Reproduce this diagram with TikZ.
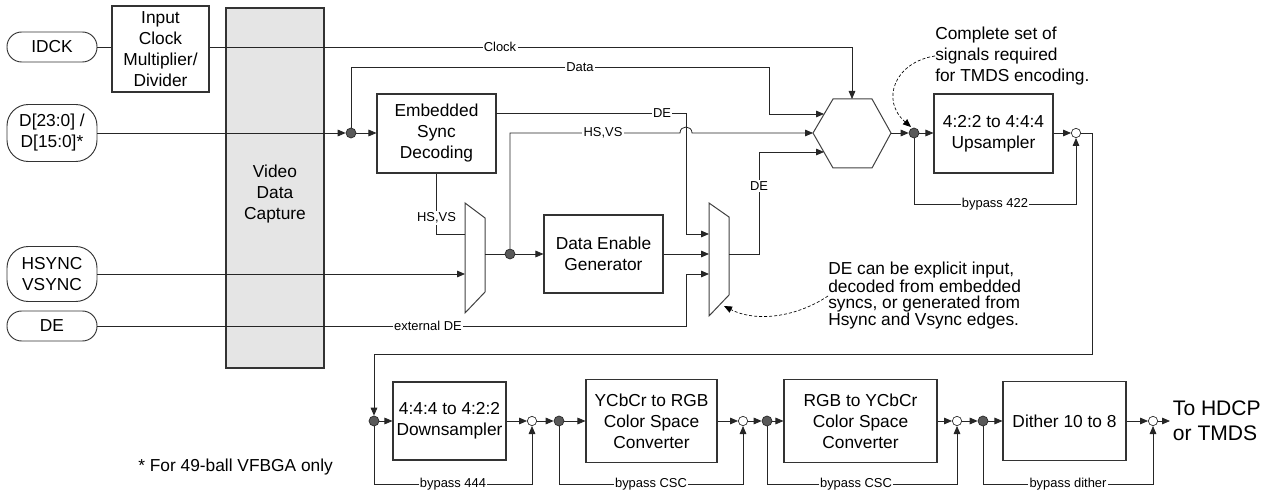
\documentclass[tikz,border=0pt]{standalone}
\usepackage{fontspec}
\setmainfont{Liberation Sans}
\usetikzlibrary{arrows.meta}
\begin{document}
\begin{tikzpicture}[x=0.75pt,y=-0.75pt,
  every node/.style={font=\fontsize{13}{15.75}\selectfont, align=center},
  box/.style={draw=black!80, line width=0.8pt, inner sep=0pt},
  pill/.style={draw=black!80, line width=0.7pt, inner sep=0pt, minimum width=67.5pt},
  lbl/.style={fill=white, inner sep=1pt, font=\fontsize{9.7}{11}\selectfont},
  wire/.style={line width=0.6pt, draw=black!85},
  arr/.style={wire, -{Triangle[length=6pt,width=5pt]}},
  dot/.style={circle, draw=black!85, fill=black!65, inner sep=0pt, minimum size=7.5pt, line width=0.5pt},
  odot/.style={circle, draw=black!85, fill=white, inner sep=0pt, minimum size=7pt, line width=0.5pt},
  note/.style={align=left, anchor=west, inner sep=0pt},
  shp/.style={draw=black!75, line width=0.75pt},
  hint/.style={line width=0.5pt, dash pattern=on 2.25pt off 1.5pt, -{Triangle[length=6pt,width=5pt]}},
]
\useasboundingbox (0,0) rectangle (1270,491);

% inputs
\node[pill, minimum height=22.5pt, rounded corners=11pt] (idck) at (52,47) {IDCK};
\node[pill, minimum height=42.75pt, rounded corners=16pt] (dpin) at (52,133) {D[23:0] /\\D[15:0]*};
\node[pill, minimum height=41.25pt, rounded corners=16pt] (hspin) at (52,274) {HSYNC\\VSYNC};
\node[pill, minimum height=22.5pt, rounded corners=11pt] (depin) at (52,326) {DE};

% blocks
\node[box, minimum width=72.75pt, minimum height=64.5pt] (clk) at (160.5,49) {Input\\Clock\\Multiplier/\\Divider};
\node[box, fill=black!10, minimum width=73.5pt, minimum height=270pt] (vdc) at (275,188) {};
\node (vdct) at (275,194) {Video\\Data\\Capture};
\node[box, minimum width=89.25pt, minimum height=59.25pt] (esd) at (436.5,133.5) {Embedded\\Sync\\Decoding};
\node[box, minimum width=89.25pt, minimum height=58.5pt] (deg) at (603.5,254) {Data Enable\\Generator};
\node[box, minimum width=89.25pt, minimum height=59.25pt] (ups) at (993.5,133.5) {4:2:2 to 4:4:4\\Upsampler};
\node[box, minimum width=84.75pt, minimum height=58.5pt] (dns) at (449.5,421) {4:4:4 to 4:2:2\\Downsampler};
\node[box, minimum width=98.25pt, minimum height=62.25pt] (y2r) at (651.5,421) {YCbCr to RGB\\Color Space\\Converter};
\node[box, minimum width=114.75pt, minimum height=62.25pt] (r2y) at (860.5,421) {RGB to YCbCr\\Color Space\\Converter};
\node[box, minimum width=92.25pt, minimum height=59.25pt] (dth) at (1064.5,421) {Dither 10 to 8};

% hexagon (combiner)
\coordinate (hl) at (813,133);
\coordinate (htl) at (833,99);
\coordinate (htr) at (872,99);
\coordinate (hr) at (891,133);
\coordinate (hbr) at (872,168);
\coordinate (hbl) at (833,168);
\draw[shp] (hl)--(htl)--(htr)--(hr)--(hbr)--(hbl)--cycle;
\coordinate (hin1) at (824,114);
\coordinate (hin3) at (824,152);
\coordinate (htop) at (852,99);

% muxes
\draw[shp] (465,203)--(485,218)--(485,292)--(465,313)--cycle;
\coordinate (m1i1) at (465,234);
\coordinate (m1i2) at (465,274);
\coordinate (m1o) at (485,254);
\draw[shp] (709,203)--(729,217)--(729,295)--(709,316)--cycle;
\coordinate (m2i1) at (709,234);
\coordinate (m2i2) at (709,254);
\coordinate (m2i3) at (709,274);
\coordinate (m2o) at (729,254);

% junctions
\node[dot] (d1) at (351,133) {};
\node[dot] (d2) at (510,254) {};
\node[dot] (d3) at (914,133) {};
\node[odot] (c0) at (1076,133) {};
\node[dot] (b0) at (374,421) {};
\node[odot] (c1) at (532,421) {};
\node[dot] (b1) at (559,421) {};
\node[odot] (c2) at (743,421) {};
\node[dot] (b2) at (767,421) {};
\node[odot] (c3) at (957,421) {};
\node[dot] (b3) at (983,421) {};
\node[odot] (c4) at (1153,421) {};
\node[anchor=west, align=left, inner sep=2pt, font=\fontsize{15.8}{18.75}\selectfont] (out) at (1170,421) {To HDCP\\or TMDS};

% wires top
\draw[wire] (idck.east) -- (clk.west |- idck.east);
\draw[arr] (clk.east |- idck.east) -| (htop);
\node[lbl] at (500,47) {Clock};
\draw[arr] (dpin.east) -- (d1);
\draw[arr] (d1) -- (d1 -| esd.west);
\draw[arr] (d1) |- (769,67) -- (769,114) -- (hin1);
\node[lbl] at (580,67) {Data};
\draw[arr] (496,113) -- (686,113) -- (686,234) -- (m2i1);
\node[lbl] at (662,113) {DE};
\draw[arr] (d2) -- (510,133) -- (680,133) .. controls (680,125) and (692,125) .. (692,133) -- (hl);
\node[lbl] at (603,133) {HS,VS};
\draw[wire] (esd.south) |- (m1i1);
\node[lbl] at (436.5,218) {HS,VS};
\draw[arr] (hspin.east) -- (m1i2);
\draw[wire] (m1o) -- (d2);
\draw[arr] (d2) -- (deg.west);
\draw[arr] (deg.east) -- (m2i2);
\draw[arr] (depin.east) -- (686,326) -- (686,274) -- (m2i3);
\node[lbl] at (428,326) {external DE};
\draw[arr] (m2o) -- (759,254) -- (759,152) -- (hin3);
\node[lbl] at (759,186) {DE};
\draw[arr] (hr) -- (d3);
\draw[arr] (d3) -- (d3 -| ups.west);
\draw[arr] (ups.east |- c0) -- (c0);
\draw[arr] (d3) |- (1076,204) -- (c0);
\node[lbl] at (995,204) {bypass 422};
\draw[arr] (c0) -- (1092,133) -- (1092,354) -- (374,354) -- (b0);

% bottom chain
\draw[arr] (b0) -- (dns.west);
\draw[arr] (dns.east) -- (c1);
\draw[arr] (c1) -- (b1);
\draw[arr] (b1) -- (y2r.west);
\draw[arr] (y2r.east) -- (c2);
\draw[arr] (c2) -- (b2);
\draw[arr] (b2) -- (r2y.west);
\draw[arr] (r2y.east) -- (c3);
\draw[arr] (c3) -- (b3);
\draw[arr] (b3) -- (dth.west);
\draw[arr] (dth.east) -- (c4);
\draw[arr] (c4) -- (out.west);
\draw[arr] (b0) |- (532,484) -- (c1);
\node[lbl] at (453,484) {bypass 444};
\draw[arr] (b1) |- (743,484) -- (c2);
\node[lbl] at (651,484) {bypass CSC};
\draw[arr] (b2) |- (957,484) -- (c3);
\node[lbl] at (856,484) {bypass CSC};
\draw[arr] (b3) |- (1153,484) -- (c4);
\node[lbl] at (1068,484) {bypass dither};

% notes
\node[note] (n1) at (935,56) {Complete set of\\signals required\\for TMDS encoding.};
\draw[hint] (n1.west) .. controls (895,62) and (880,100) .. (911,127);
\node[note, font=\fontsize{13}{12}\selectfont] (n2) at (828,296) {DE can be explicit input,\\decoded from embedded\\syncs, or generated from\\Hsync and Vsync edges.};
\draw[hint] (n2.west) .. controls (795,318) and (755,322) .. (724,306);
\node[note] (foot) at (138,467) {* For 49-ball VFBGA only};
\end{tikzpicture}
\end{document}
